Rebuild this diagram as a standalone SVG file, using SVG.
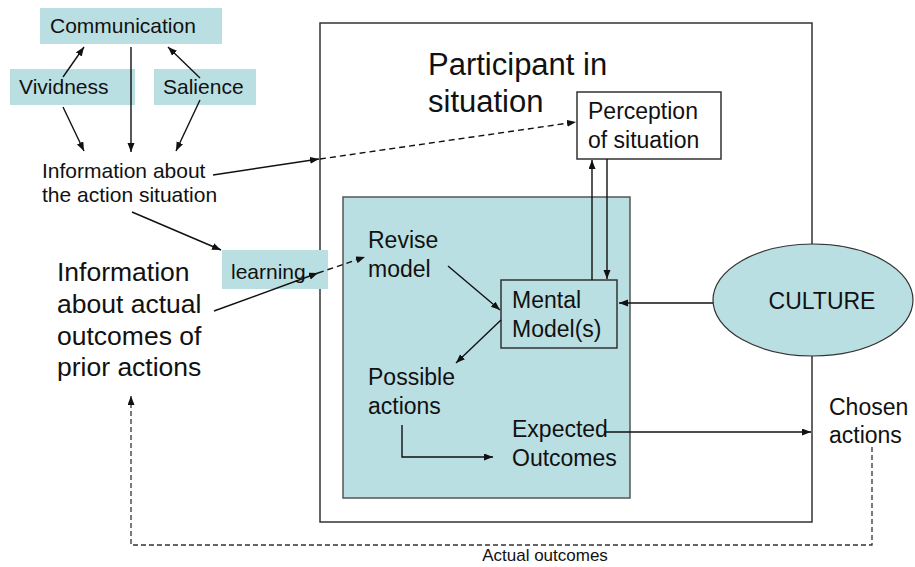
<svg xmlns="http://www.w3.org/2000/svg" width="915" height="567" viewBox="0 0 915 567">
  <style>
    text { font-family: "Liberation Sans", Arial, sans-serif; fill: #111; }
    .sm { font-size: 21px; }
    .md { font-size: 23px; }
    .lg { font-size: 26.5px; }
    .xl { font-size: 31px; }
    .xs { font-size: 17px; }
    .teal { fill: #badfe2; }
    .edge { fill: none; stroke: #111; stroke-width: 1.4; }
    .dash { fill: none; stroke: #111; stroke-width: 1.4; stroke-dasharray: 6 4; }
    .fb { fill: none; stroke: #333; stroke-width: 1.3; stroke-dasharray: 5 3; }
  </style>
  <defs>
    <marker id="arr" markerUnits="userSpaceOnUse" markerWidth="10" markerHeight="8" refX="9" refY="3.5" orient="auto">
      <path d="M0,0 L9,3.5 L0,7 z" fill="#111"/>
    </marker>
  </defs>

  <rect width="915" height="567" fill="#ffffff"/>

  <!-- participant frame -->
  <g id="participant">
    <rect x="320" y="23" width="492" height="499" fill="#fff" stroke="#333" stroke-width="1.5"/>
    <text class="xl" x="428" y="75">Participant in</text>
    <text class="xl" x="428" y="112">situation</text>
  </g>

  <!-- inner cognition area -->
  <g id="cognition">
    <rect x="343" y="197" width="287" height="301" class="teal" stroke="#555" stroke-width="1.5"/>
  </g>

  <g id="communication">
    <rect x="40" y="8" width="182" height="36" class="teal"/>
    <text class="sm" x="50" y="33">Communication</text>
  </g>
  <g id="vividness">
    <rect x="10" y="69" width="125" height="36" class="teal"/>
    <text class="sm" x="19" y="94">Vividness</text>
  </g>
  <g id="salience">
    <rect x="154" y="69" width="102" height="36" class="teal"/>
    <text class="sm" x="163" y="94">Salience</text>
  </g>
  <g id="info-situation">
    <text class="sm" x="42" y="178">Information about</text>
    <text class="sm" x="42" y="202">the action situation</text>
  </g>
  <g id="info-outcomes">
    <text class="lg" x="57" y="281">Information</text>
    <text class="lg" x="57" y="313">about actual</text>
    <text class="lg" x="57" y="345">outcomes of</text>
    <text class="lg" x="57" y="376">prior actions</text>
  </g>
  <g id="learning">
    <rect x="222" y="250" width="106" height="39" class="teal"/>
    <text class="sm" x="231" y="279">learning</text>
  </g>
  <g id="perception">
    <rect x="577" y="92" width="144" height="67" fill="#fff" stroke="#333" stroke-width="1.5"/>
    <text class="md" x="588" y="119">Perception</text>
    <text class="md" x="588" y="148">of situation</text>
  </g>
  <g id="revise">
    <text class="md" x="368" y="248">Revise</text>
    <text class="md" x="368" y="277">model</text>
  </g>
  <g id="mental-model">
    <rect x="501" y="280" width="116" height="68" class="teal" stroke="#333" stroke-width="1.5"/>
    <text class="md" x="512" y="308">Mental</text>
    <text class="md" x="512" y="337">Model(s)</text>
  </g>
  <g id="possible">
    <text class="md" x="368" y="385">Possible</text>
    <text class="md" x="368" y="414">actions</text>
  </g>
  <g id="expected">
    <text class="md" x="512" y="437">Expected</text>
    <text class="md" x="512" y="466">Outcomes</text>
  </g>
  <g id="culture">
    <ellipse cx="813" cy="300" rx="100" ry="56" class="teal" stroke="#333" stroke-width="1.2"/>
    <text class="md" x="822" y="309" text-anchor="middle">CULTURE</text>
  </g>
  <g id="chosen">
    <text class="md" x="829" y="415">Chosen</text>
    <text class="md" x="829" y="443">actions</text>
  </g>
  <g id="actual-label">
    <text class="xs" x="545" y="561" text-anchor="middle">Actual outcomes</text>
  </g>

  <!-- connectors -->
  <g id="connectors">
    <line class="edge" x1="63" y1="77" x2="84" y2="47" marker-end="url(#arr)"/>
    <line class="edge" x1="200" y1="78" x2="168" y2="47" marker-end="url(#arr)"/>
    <line class="edge" x1="131" y1="47" x2="131" y2="152" marker-end="url(#arr)"/>
    <line class="edge" x1="63" y1="107" x2="84" y2="151" marker-end="url(#arr)"/>
    <line class="edge" x1="200" y1="100" x2="176" y2="151" marker-end="url(#arr)"/>
    <line class="edge" x1="213" y1="175" x2="319" y2="159" marker-end="url(#arr)"/>
    <line class="dash" x1="320" y1="159" x2="576" y2="122" marker-end="url(#arr)"/>
    <line class="edge" x1="132" y1="212" x2="221" y2="250" marker-end="url(#arr)"/>
    <line class="edge" x1="214" y1="311" x2="318" y2="273" marker-end="url(#arr)"/>
    <line class="dash" x1="318" y1="273" x2="365" y2="257" marker-end="url(#arr)"/>
    <line class="edge" x1="592" y1="280" x2="592" y2="160" marker-end="url(#arr)"/>
    <line class="edge" x1="607" y1="159" x2="607" y2="279" marker-end="url(#arr)"/>
    <line class="edge" x1="713" y1="303" x2="619" y2="303" marker-end="url(#arr)"/>
    <line class="edge" x1="448" y1="266" x2="500" y2="310" marker-end="url(#arr)"/>
    <line class="edge" x1="501" y1="320" x2="456" y2="363" marker-end="url(#arr)"/>
    <polyline class="edge" points="402,425 402,457 493,457" marker-end="url(#arr)"/>
    <line class="edge" x1="604" y1="432" x2="811" y2="432" marker-end="url(#arr)"/>
    <polyline class="fb" points="872,447 872,545 131,545 131,396" marker-end="url(#arr)"/>
  </g>
</svg>
